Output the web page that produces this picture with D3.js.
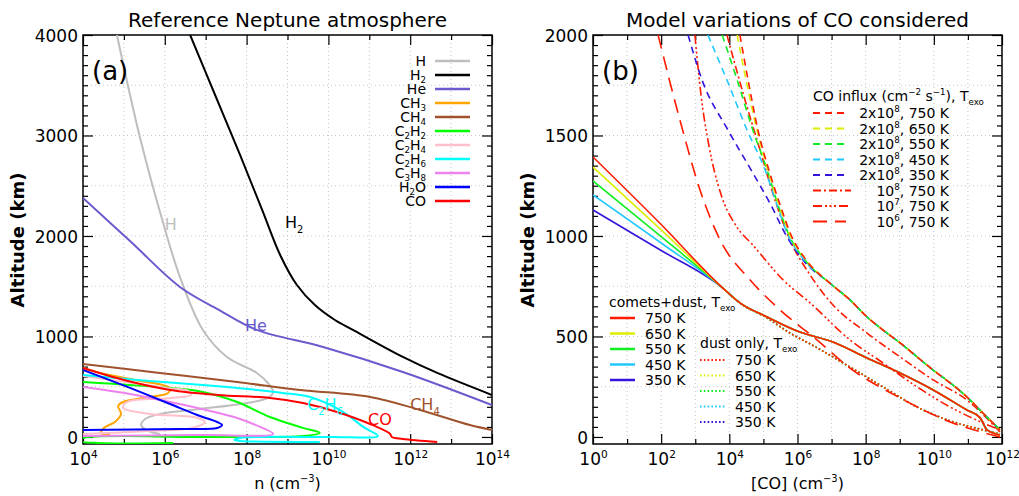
<!DOCTYPE html>
<html>
<head>
<meta charset="utf-8">
<script src="https://cdn.jsdelivr.net/npm/d3@7"></script>
<style>
  body { margin: 0; background: #fff; }
  svg { display: block; }
  text { font-family: "DejaVu Sans", sans-serif; }
</style>
</head>
<body>
<svg id="chart" width="1019" height="496"></svg>
<script>
/* ---- panel (a): [log10 n (cm-3), altitude (km)] ---- */
const H = [[4.83, 4000], [5.39, 2985], [5.96, 2129], [6.37, 1592], [6.93, 1065], [7.52, 796], [8.25, 637], [8.52, 537], [8.65, 448], [8.52, 388], [7.84, 328], [6.86, 279], [5.88, 229], [5.52, 179], [5.42, 119], [5.59, 60], [5.88, 30]]
const H2 = [[6.62, 4000], [7.23, 3403], [7.84, 2806], [8.38, 2259], [8.82, 1811], [9.23, 1512], [9.67, 1313], [10.16, 1164], [10.6, 1065], [11.82, 796], [12.66, 637], [14.0, 418]]
const He = [[4.0, 2378], [5.15, 1950], [6.37, 1493], [7.3, 1270], [8.25, 1065], [9.87, 896], [11.82, 647], [14.0, 318]]
const CH3 = [[4.0, 690], [4.42, 637], [5.27, 567], [6.13, 488], [6.08, 438], [5.64, 398], [4.98, 348], [4.86, 308], [4.93, 229], [4.78, 149], [4.51, 90], [4.44, 40], [4.66, 20]]
const CH4 = [[4.0, 726], [5.88, 637], [7.77, 547], [9.31, 468], [11.02, 398], [12.24, 269], [13.46, 119], [14.0, 70]]
const C2H2 = [[4.0, 547], [6.13, 488], [6.93, 448], [7.77, 348], [8.57, 199], [9.38, 90], [9.79, 40], [9.38, 10], [6.86, 0], [4.0, -10], [3.9, -40], [4.4, -60], [6.2, -60]]
const C2H4 = [[4.0, 607], [6.05, 488], [6.57, 458], [6.64, 418], [6.18, 388], [5.08, 348], [4.98, 289], [5.64, 229], [6.81, 189], [6.98, 149], [6.67, 90], [5.64, 60], [4.0, 30]]
const C2H6 = [[4.0, 617], [5.32, 567], [6.93, 517], [8.25, 468], [8.89, 438], [9.55, 398], [10.28, 269], [10.89, 90], [11.21, 10], [10.04, 0], [7.84, -10], [7.7, -30], [7.84, -40], [9.79, -50]]
const C3H8 = [[4.0, 498], [5.15, 428], [6.13, 348], [7.11, 259], [7.77, 189], [8.33, 100], [8.65, 30], [6.86, 20], [4.0, 10]]
const H2O = [[4.0, 667], [5.15, 488], [6.13, 328], [6.86, 209], [7.28, 149], [7.4, 119], [7.28, 90], [6.37, 80], [4.0, 70]]
const CO = [[4.0, 687], [5.1, 557], [6.13, 468], [7.3, 418], [8.57, 388], [9.38, 338], [10.21, 249], [11.02, 129], [11.51, 30], [11.55, 0], [11.82, -20], [12.66, -50]]

const speciesNames = ['H', 'H_{2}', 'He', 'CH_{3}', 'CH_{4}', 'C_{2}H_{2}', 'C_{2}H_{4}', 'C_{2}H_{6}', 'C_{3}H_{8}', 'H_{2}O', 'CO']
const speciesData = [H, H2, He, CH3, CH4, C2H2, C2H4, C2H6, C3H8, H2O, CO]
const speciesColors = ['#bebebe', '#000000', '#6a5acd', '#ffa500', '#a0522d', '#00ff00', '#ffc0cb', '#00ffff', '#ee82ee', '#0000ff', '#ff0000']

/* ---- panel (b): [log10 [CO] (cm-3), altitude (km)] ---- */
const T_EXO = [750, 650, 550, 450, 350]
const cdTail = [[3.81, 741], [4.31, 667], [5.11, 597], [6.07, 522], [7.04, 473], [8.04, 393], [9.01, 318], [9.98, 234], [10.97, 134], [11.36, 95], [11.56, 35], [11.94, 10]]
const cd750 = [[0, 1393], [2, 1057], ...cdTail]
const cd650 = [[0, 1343], [2, 1030], ...cdTail]
const cd550 = [[0, 1274], [2, 997], ...cdTail]
const cd450 = [[0, 1204], [2, 965], ...cdTail]
const cd350 = [[0, 1129], [2, 928], ...cdTail]
const dustOnly = [[3.81, 741], [4.31, 667], [5.11, 592], [5.78, 517], [6.37, 463], [7.54, 348], [8.51, 249], [9.51, 149], [10.48, 80], [11.21, 45], [11.94, 15]]

const fluxTail = [[6.98, 761], [7.54, 682], [8.04, 597], [8.51, 532], [9.01, 468], [9.51, 398], [9.98, 333], [10.48, 269], [10.97, 199], [11.44, 119], [11.94, 35]]
const f2e8_750 = [[4.31, 2000], [4.55, 1776], [4.84, 1527], [5.16, 1328], [5.49, 1154], [5.81, 1005], [6.25, 881], ...fluxTail]
const f2e8_650 = [[4.23, 2000], [4.49, 1776], [4.81, 1527], [5.13, 1328], [5.46, 1154], [5.78, 1005], [6.25, 881], ...fluxTail]
const f2e8_550 = [[3.79, 2000], [4.23, 1776], [4.69, 1527], [5.11, 1328], [5.43, 1154], [5.75, 1005], [6.22, 881], ...fluxTail]
const f2e8_450 = [[3.37, 2000], [3.93, 1776], [4.52, 1527], [5.05, 1328], [5.4, 1154], [5.72, 1005], [6.19, 881], ...fluxTail]
const f2e8_350 = [[2.79, 2000], [3.2, 1776], [3.96, 1527], [4.64, 1328], [5.22, 1154], [5.66, 1005], [6.16, 881], ...fluxTail]
const f1e8 = [[3.93, 2000], [4.46, 1677], [4.9, 1428], [5.34, 1179], [5.78, 980], [6.37, 806], [7.04, 657], [8.04, 517], [9.01, 398], [9.98, 284], [10.97, 184], [11.94, 25]]
const f1e7 = [[2.99, 2000], [3.17, 1700], [3.4, 1450], [3.75, 1210], [4.2, 1050], [4.69, 955], [5.58, 781], [6.37, 667], [7.54, 483], [8.51, 368], [9.51, 249], [10.48, 149], [11.44, 70], [11.94, 35]]
const f1e6 = [[1.91, 2000], [2.55, 1577], [3.14, 1229], [3.73, 980], [4.61, 781], [5.49, 632], [6.57, 483], [7.54, 343], [9.01, 194], [10.48, 75], [11.94, 0]]

const influxLabels = ['2x10^{8}, 750 K', '2x10^{8}, 650 K', '2x10^{8}, 550 K', '2x10^{8}, 450 K', '2x10^{8}, 350 K', '10^{8}, 750 K', '10^{7}, 750 K', '10^{6}, 750 K']
const tempColors = ['#ff1a00', '#dcef00', '#11ee22', '#22c8ff', '#3414dc']

const DASH = { flux2e8: '7,5', flux1e8: '8,3,2,3', flux1e7: '9,3,2,2.5,2,2.5,2,3', flux1e6: '14,8', dots: '1.6,2.2' }

/* ---- helpers ---- */
const svg = d3.select('#chart')

// text with ^{..} superscripts and _{..} subscripts
function rich(sel, str, size, subDrop = 0.3) {
  const re = /([\^_])\{([^}]*)\}|([^\^_]+)/g
  let m, shift = 0
  sel.text(null)
  while ((m = re.exec(str))) {
    if (m[3]) {
      sel.append('tspan').attr('dy', -shift).attr('font-size', size).text(m[3])
      shift = 0
    } else {
      const s = m[1] === '^' ? -0.42 * size : subDrop * size
      sel.append('tspan').attr('dy', s - shift).attr('font-size', size * 0.62).text(m[2])
      shift = s
    }
  }
  return sel
}

function frame(g, x, y, xMaj, xMin, yMaj, yMin, gridX, gridY) {
  const [x0, x1] = x.range()
  const [y0, y1] = y.range()

  /* dotted grid */
  g.append('g').selectAll('line').data(gridX).join('line')
    .attr('x1', d => x(d)).attr('x2', d => x(d)).attr('y1', y1).attr('y2', y0)
    .attr('stroke', '#c4c4c4').attr('stroke-dasharray', '1,3')
  g.append('g').selectAll('line').data(gridY).join('line')
    .attr('x1', x0).attr('x2', x1).attr('y1', d => y(d)).attr('y2', d => y(d))
    .attr('stroke', '#c4c4c4').attr('stroke-dasharray', '1,3')

  const ax = (fn, scale, vals, size, tr) => {
    const a = g.append('g').attr('transform', tr)
      .call(fn(scale).tickValues(vals).tickSize(-size).tickFormat(''))
    a.select('.domain').remove()
    a.selectAll('.tick line').attr('stroke-width', 1.2)
    a.attr('font-size', 17).attr('font-family', '"DejaVu Sans", sans-serif')
    return a
  }
  ax(d3.axisBottom, x, xMin, 5, `translate(0,${y0})`)
  const bottom = ax(d3.axisBottom, x, xMaj, 10, `translate(0,${y0})`)
  ax(d3.axisTop, x, xMin, 5, `translate(0,${y1})`)
  ax(d3.axisTop, x, xMaj, 10, `translate(0,${y1})`)
  ax(d3.axisLeft, y, yMin, 5, `translate(${x0},0)`)
  const left = ax(d3.axisLeft, y, yMaj, 10, `translate(${x0},0)`)
  ax(d3.axisRight, y, yMin, 5, `translate(${x1},0)`)
  ax(d3.axisRight, y, yMaj, 10, `translate(${x1},0)`)

  bottom.selectAll('.tick text').attr('y', 21).attr('dy', null).attr('fill', '#000')
    .each(function (d) { rich(d3.select(this), `10^{${Math.round(Math.log10(d))}}`, 17) })
  left.selectAll('.tick text').attr('x', -5).attr('dy', '0.36em').attr('fill', '#000').text(d => d)

  g.append('rect').attr('x', x0).attr('y', y1).attr('width', x1 - x0).attr('height', y0 - y1)
    .attr('fill', 'none').attr('stroke', '#000').attr('stroke-width', 1.5)
}

function clip(id, x, y) {
  const [x0, x1] = x.range()
  const [y0, y1] = y.range()
  svg.append('clipPath').attr('id', id).append('rect')
    .attr('x', x0).attr('y', y1).attr('width', x1 - x0).attr('height', y0 - y1)
}

/* ---- panel (a) ---- */
const xa = d3.scaleLog().domain([1e4, 1e14]).range([83, 492])
const ya = d3.scaleLinear().domain([-70, 4000]).range([444, 35])
clip('clipA', xa, ya)
const gA = svg.append('g')

frame(gA, xa, ya,
  d3.range(4, 15, 2).map(e => 10 ** e), d3.range(5, 14, 2).map(e => 10 ** e),
  d3.range(0, 4001, 1000), d3.range(0, 4001, 100).filter(v => v % 1000),
  d3.range(5, 14).map(e => 10 ** e), d3.range(500, 4000, 500))

const lineA = d3.line()
  .x(d => xa(10 ** d[0]))
  .y(d => ya(d[1]))
  .curve(d3.curveCatmullRom.alpha(0.5))

gA.append('g').attr('clip-path', 'url(#clipA)')
  .selectAll('path').data(speciesData).join('path')
  .attr('d', lineA)
  .attr('fill', 'none')
  .attr('stroke', (d, i) => speciesColors[i])
  .attr('stroke-width', 2)

/* curve labels, placed in data coordinates */
const curveLabels = [
  ['H', 6.0, 2060, '#bebebe'], ['H_{2}', 8.94, 2080, '#000'], ['He', 7.96, 1055, '#6a5acd'],
  ['C_{2}H_{6}', 9.48, 269, '#00ffff'], ['CO', 10.97, 119, '#ff0000'], ['CH_{4}', 12.0, 269, '#a0522d']
]
curveLabels.forEach(([t, lx, alt, c]) => {
  rich(gA.append('text').attr('x', xa(10 ** lx)).attr('y', ya(alt)).attr('fill', c), t, 16)
})

/* legend (a) */
speciesNames.forEach((name, i) => {
  const yy = 61 + i * 14
  rich(gA.append('text').attr('x', 426).attr('y', yy + 5).attr('text-anchor', 'end'), name, 14, 0.2)
  gA.append('line').attr('x1', 435).attr('x2', 470).attr('y1', yy).attr('y2', yy)
    .attr('stroke', speciesColors[i]).attr('stroke-width', 2.5)
})

gA.append('text').attr('x', 92).attr('y', 80).attr('font-size', 26).text('(a)')
gA.append('text').attr('x', 287.5).attr('y', 27).attr('text-anchor', 'middle')
  .attr('font-size', 20).text('Reference Neptune atmosphere')
rich(gA.append('text').attr('x', 287.5).attr('y', 489).attr('text-anchor', 'middle'), 'n (cm^{−3})', 16)
gA.append('text').attr('transform', 'translate(24,240) rotate(-90)').attr('text-anchor', 'middle')
  .attr('font-size', 18).attr('font-weight', 'bold').text('Altitude (km)')

/* ---- panel (b) ---- */
const xb = d3.scaleLog().domain([1, 1e12]).range([593, 1002])
const yb = d3.scaleLinear().domain([-35, 2000]).range([444, 35])
clip('clipB', xb, yb)
const gB = svg.append('g')

frame(gB, xb, yb,
  d3.range(0, 13, 2).map(e => 10 ** e), d3.range(1, 12, 2).map(e => 10 ** e),
  d3.range(0, 2001, 500), d3.range(0, 2001, 50).filter(v => v % 500),
  d3.range(1, 12).map(e => 10 ** e), d3.range(250, 2000, 250))

const lineB = d3.line()
  .x(d => xb(10 ** d[0]))
  .y(d => yb(d[1]))
  .curve(d3.curveMonotoneX)

const plotB = gB.append('g').attr('clip-path', 'url(#clipB)')
const drawB = (data, color, dash) => plotB.append('path').attr('d', lineB(data))
  .attr('fill', 'none').attr('stroke', color).attr('stroke-width', 1.6)
  .attr('stroke-dasharray', dash)

const cometsDust = [cd750, cd650, cd550, cd450, cd350]
const flux2e8 = [f2e8_750, f2e8_650, f2e8_550, f2e8_450, f2e8_350]
for (let i = 4; i >= 0; i--) drawB(dustOnly, tempColors[i], DASH.dots)
for (let i = 4; i >= 0; i--) drawB(cometsDust[i], tempColors[i], null)
drawB(f1e6, tempColors[0], DASH.flux1e6)
drawB(f1e7, tempColors[0], DASH.flux1e7)
drawB(f1e8, tempColors[0], DASH.flux1e8)
for (let i = 4; i >= 0; i--) drawB(flux2e8[i], tempColors[i], DASH.flux2e8)

/* legend (b): influx */
rich(gB.append('text').attr('x', 813).attr('y', 101), 'CO influx (cm^{−2} s^{−1}), T_{exo}', 14)
const influxDash = [DASH.flux2e8, DASH.flux2e8, DASH.flux2e8, DASH.flux2e8, DASH.flux2e8, DASH.flux1e8, DASH.flux1e7, DASH.flux1e6]
influxLabels.forEach((lab, i) => {
  const yy = 113 + i * 15.5
  const c = i < 5 ? tempColors[i] : tempColors[0]
  gB.append('line').attr('x1', 813).attr('x2', i === 5 || i === 6 ? 851 : 846).attr('y1', yy).attr('y2', yy)
    .attr('stroke', c).attr('stroke-width', 2).attr('stroke-dasharray', influxDash[i])
  rich(gB.append('text').attr('x', 949).attr('y', yy + 5).attr('text-anchor', 'end'), lab, 14)
})

/* legend (b): comets+dust and dust only */
rich(gB.append('text').attr('x', 609).attr('y', 307), 'comets+dust, T_{exo}', 14)
rich(gB.append('text').attr('x', 700).attr('y', 348), 'dust only, T_{exo}', 14)
T_EXO.forEach((t, i) => {
  const y1 = 318 + i * 15.5
  gB.append('line').attr('x1', 610).attr('x2', 635).attr('y1', y1).attr('y2', y1)
    .attr('stroke', tempColors[i]).attr('stroke-width', 2.5)
  gB.append('text').attr('x', 645).attr('y', y1 + 5).attr('font-size', 14).text(`${t} K`)
  const y2 = 360 + i * 15.5
  gB.append('line').attr('x1', 700).attr('x2', 725).attr('y1', y2).attr('y2', y2)
    .attr('stroke', tempColors[i]).attr('stroke-width', 2).attr('stroke-dasharray', DASH.dots)
  gB.append('text').attr('x', 735).attr('y', y2 + 5).attr('font-size', 14).text(`${t} K`)
})

gB.append('text').attr('x', 602).attr('y', 80).attr('font-size', 26).text('(b)')
gB.append('text').attr('x', 797.5).attr('y', 27).attr('text-anchor', 'middle')
  .attr('font-size', 20).text('Model variations of CO considered')
rich(gB.append('text').attr('x', 797.5).attr('y', 489).attr('text-anchor', 'middle'), '[CO] (cm^{−3})', 16)
gB.append('text').attr('transform', 'translate(534,240) rotate(-90)').attr('text-anchor', 'middle')
  .attr('font-size', 18).attr('font-weight', 'bold').text('Altitude (km)')
</script>
</body>
</html>
